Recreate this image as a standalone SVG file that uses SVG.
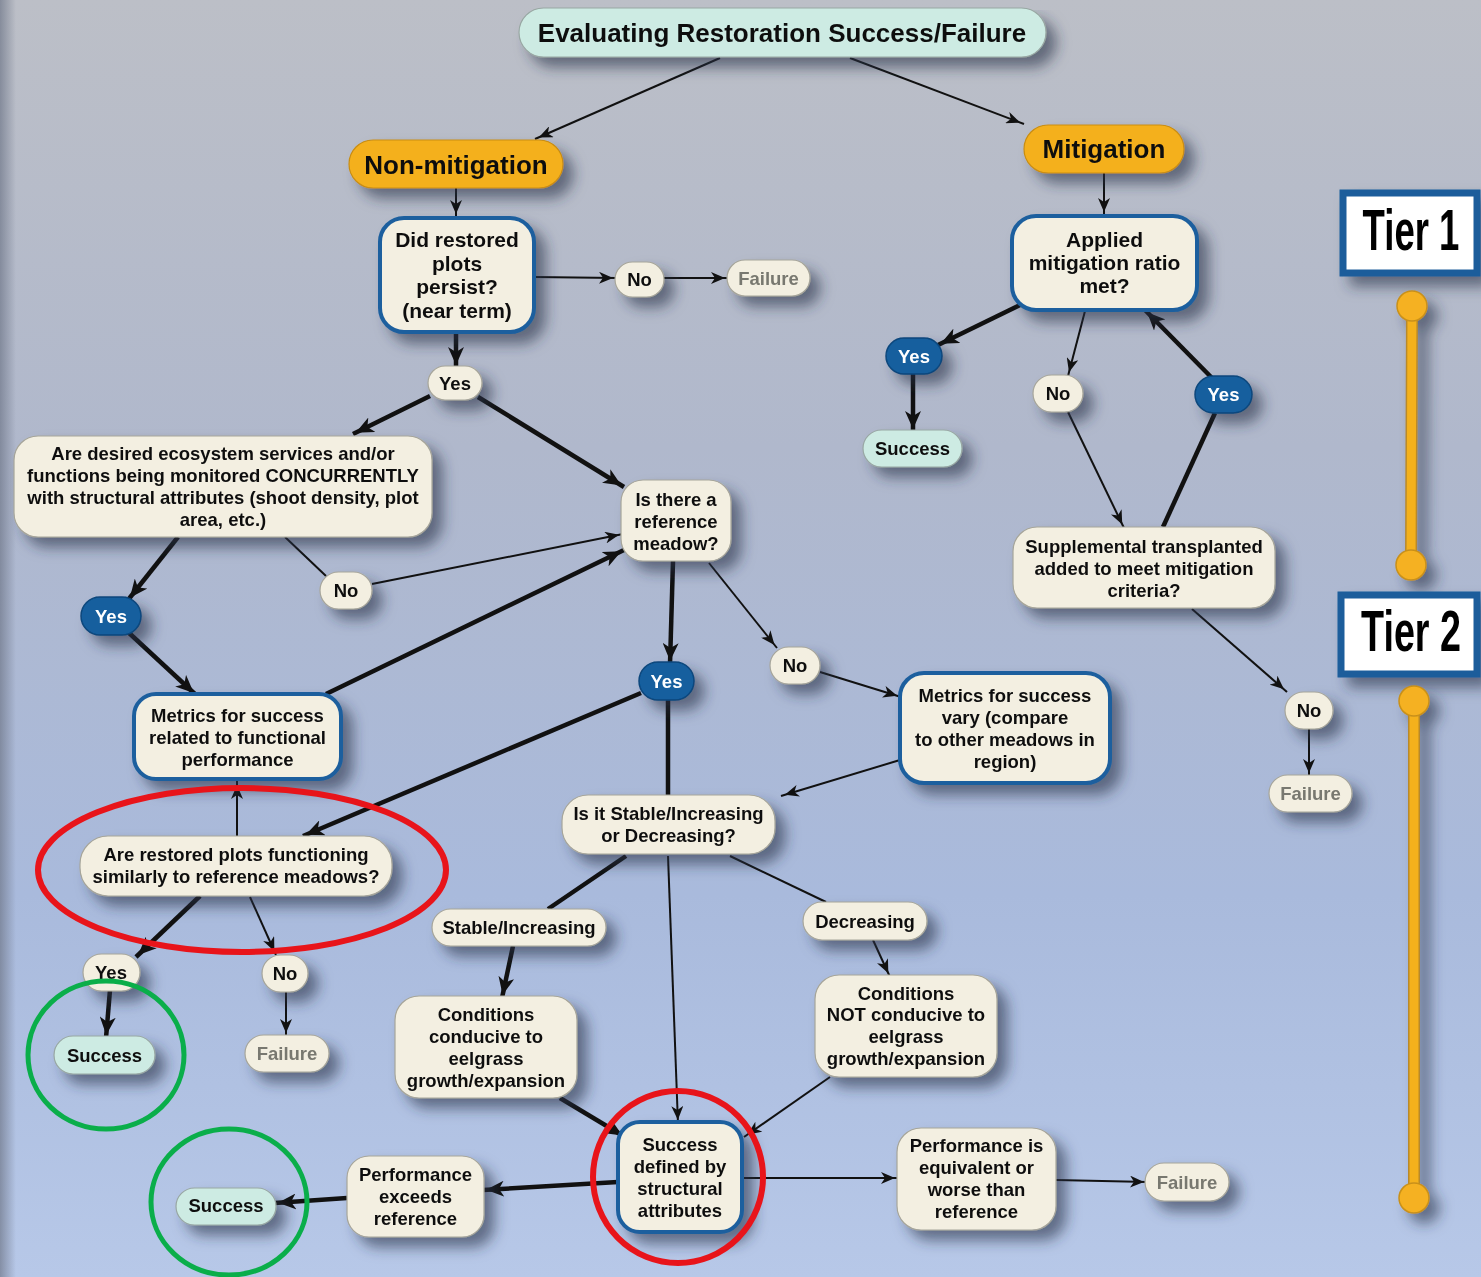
<svg xmlns="http://www.w3.org/2000/svg" width="1481" height="1277" viewBox="0 0 1481 1277">
<defs>
<linearGradient id="bg" x1="0" y1="0" x2="0" y2="1">
<stop offset="0" stop-color="#bcbfc7"/>
<stop offset="0.35" stop-color="#b0b8cc"/>
<stop offset="0.7" stop-color="#a9badc"/>
<stop offset="1" stop-color="#b7c8e8"/>
</linearGradient>
<linearGradient id="edge" x1="0" y1="0" x2="1" y2="0">
<stop offset="0" stop-color="#6f7789" stop-opacity="0.7"/>
<stop offset="1" stop-color="#6f7789" stop-opacity="0"/>
</linearGradient>
<filter id="sh" filterUnits="userSpaceOnUse" x="0" y="0" width="1481" height="1277">
<feGaussianBlur in="SourceAlpha" stdDeviation="7"/>
<feOffset dx="10" dy="10" result="b"/>
<feFlood flood-color="#283248" flood-opacity="0.6"/>
<feComposite in2="b" operator="in"/>
<feMerge><feMergeNode/><feMergeNode in="SourceGraphic"/></feMerge>
</filter>
<marker id="a1" markerUnits="userSpaceOnUse" markerWidth="24" markerHeight="12" viewBox="0 0 24 12" refX="18" refY="6" orient="auto">
<path d="M0,0 L14,6 L0,12 L4,6 z" fill="#111"/>
</marker>
<marker id="a2" markerUnits="userSpaceOnUse" markerWidth="26" markerHeight="16" viewBox="0 0 26 16" refX="21" refY="8" orient="auto">
<path d="M0,0 L18,8 L0,16 L5,8 z" fill="#111"/>
</marker>
<style>
.n{fill:#f3efe1;stroke:#a6a59a;stroke-width:1.2}
.nb{fill:#f3efe1;stroke:#1d5f9e;stroke-width:4}
.m{fill:#cdebe3;stroke:#98a7a3;stroke-width:1.2}
.o{fill:#f4b01e;stroke:#c98d12;stroke-width:1.2}
.b{fill:#135e9e;stroke:#0c477c;stroke-width:1.5}
text{font-family:"Liberation Sans",Arial,sans-serif;font-weight:bold;font-size:18.5px;fill:#111;text-anchor:middle}
.big{font-size:26px}
.q{font-size:21px}
.w{fill:#fff}
.g{fill:#78786f}
.c1{stroke:#111;stroke-width:2;fill:none}
.c2{stroke:#111;stroke-width:4.5;fill:none}
.tier{font-size:58px;fill:#000}
.tb{fill:#fff;stroke:#1c5d9b;stroke-width:7}
.tl1{stroke:#b8892a;stroke-width:12;stroke-linecap:round}
.tl2{stroke:#f4b11c;stroke-width:9;stroke-linecap:round}
.tc{fill:#f5b120;stroke:#c8901a;stroke-width:1.5}
.red{fill:none;stroke:#e8141a;stroke-width:6}
.grn{fill:none;stroke:#0aae4a;stroke-width:5}
</style>
</defs>
<rect width="1481" height="1277" fill="url(#bg)"/>
<rect width="16" height="1277" fill="url(#edge)"/>

<g id="connectors">
<line class="c1" x1="720" y1="58" x2="535" y2="139" marker-end="url(#a1)"/>
<line class="c1" x1="850" y1="58" x2="1024" y2="124" marker-end="url(#a1)"/>
<line class="c1" x1="456" y1="188" x2="456" y2="218" marker-end="url(#a1)"/>
<line class="c1" x1="1104" y1="173" x2="1104" y2="216" marker-end="url(#a1)"/>
<line class="c1" x1="534" y1="277" x2="617" y2="278" marker-end="url(#a1)"/>
<line class="c1" x1="664" y1="278" x2="729" y2="278" marker-end="url(#a1)"/>
<line class="c2" x1="456" y1="332" x2="456" y2="368" marker-end="url(#a2)"/>
<line class="c2" x1="430" y1="396" x2="353" y2="434" marker-end="url(#a2)"/>
<line class="c2" x1="478" y1="397" x2="624" y2="487" marker-end="url(#a2)"/>
<line class="c2" x1="178" y1="537" x2="128" y2="600" marker-end="url(#a2)"/>
<line class="c1" x1="285" y1="537" x2="326" y2="576"/>
<line class="c1" x1="372" y1="584" x2="623" y2="534" marker-end="url(#a1)"/>
<line class="c2" x1="128" y1="632" x2="196" y2="695" marker-end="url(#a2)"/>
<line class="c2" x1="326" y1="694" x2="624" y2="550" marker-end="url(#a2)"/>
<line class="c2" x1="673" y1="561" x2="670" y2="664" marker-end="url(#a2)"/>
<line class="c1" x1="709" y1="563" x2="777" y2="648" marker-end="url(#a1)"/>
<line class="c1" x1="820" y1="672" x2="901" y2="697" marker-end="url(#a1)"/>
<line class="c1" x1="900" y1="760" x2="781" y2="796" marker-end="url(#a1)"/>
<line class="c2" x1="641" y1="693" x2="303" y2="836" marker-end="url(#a2)"/>
<line class="c2" x1="668" y1="700" x2="668" y2="795"/>
<line class="c1" x1="237" y1="836" x2="237" y2="781" marker-end="url(#a1)"/>
<line class="c2" x1="200" y1="896" x2="136" y2="957" marker-end="url(#a2)"/>
<line class="c1" x1="250" y1="897" x2="276" y2="955" marker-end="url(#a1)"/>
<line class="c2" x1="110" y1="990" x2="106" y2="1038" marker-end="url(#a2)"/>
<line class="c1" x1="286" y1="992" x2="286" y2="1037" marker-end="url(#a1)"/>
<line class="c2" x1="626" y1="856" x2="548" y2="909"/>
<line class="c1" x1="730" y1="856" x2="826" y2="902"/>
<line class="c1" x1="668" y1="856" x2="678" y2="1124" marker-end="url(#a1)"/>
<line class="c2" x1="513" y1="946" x2="502" y2="998" marker-end="url(#a2)"/>
<line class="c1" x1="873" y1="940" x2="890" y2="977" marker-end="url(#a1)"/>
<line class="c2" x1="560" y1="1098" x2="625" y2="1137" marker-end="url(#a2)"/>
<line class="c1" x1="830" y1="1077" x2="744" y2="1137" marker-end="url(#a1)"/>
<line class="c2" x1="618" y1="1182" x2="483" y2="1190" marker-end="url(#a2)"/>
<line class="c2" x1="347" y1="1198" x2="275" y2="1203" marker-end="url(#a2)"/>
<line class="c1" x1="742" y1="1178" x2="899" y2="1178" marker-end="url(#a1)"/>
<line class="c1" x1="1056" y1="1180" x2="1148" y2="1182" marker-end="url(#a1)"/>
<line class="c2" x1="1022" y1="304" x2="938" y2="345" marker-end="url(#a2)"/>
<line class="c2" x1="913" y1="374" x2="913" y2="432" marker-end="url(#a2)"/>
<line class="c1" x1="1085" y1="311" x2="1068" y2="376" marker-end="url(#a1)"/>
<line class="c2" x1="1212" y1="378" x2="1145" y2="310" marker-end="url(#a2)"/>
<line class="c1" x1="1068" y1="412" x2="1124" y2="528" marker-end="url(#a1)"/>
<line class="c2" x1="1163" y1="527" x2="1215" y2="413"/>
<line class="c1" x1="1192" y1="609" x2="1287" y2="692" marker-end="url(#a1)"/>
<line class="c1" x1="1309" y1="729" x2="1309" y2="777" marker-end="url(#a1)"/>
</g>

<g id="title" filter="url(#sh)"><rect class="m" x="519" y="8" width="527" height="49" rx="24.5"/><text class="big" x="782" y="42">Evaluating Restoration Success/Failure</text></g>
<g id="nonmitigation" filter="url(#sh)"><rect class="o" x="349" y="140" width="214" height="48" rx="24"/><text class="big" x="456" y="174">Non-mitigation</text></g>
<g id="mitigation" filter="url(#sh)"><rect class="o" x="1024" y="125" width="160" height="48" rx="24"/><text class="big" x="1104" y="158">Mitigation</text></g>
<g id="persist" filter="url(#sh)"><rect class="nb" x="380" y="218" width="154" height="114" rx="24"/><text class="q" x="457" y="247">Did restored</text><text class="q" x="457" y="271">plots</text><text class="q" x="457" y="294">persist?</text><text class="q" x="457" y="318">(near term)</text></g>
<g id="no1" filter="url(#sh)"><rect class="n" x="615" y="262" width="49" height="35" rx="17.5"/><text x="639.5" y="286">No</text></g>
<g id="fail1" filter="url(#sh)"><rect class="n" x="727" y="260" width="83" height="36" rx="18"/><text class="g" x="768.5" y="285">Failure</text></g>
<g id="yes1" filter="url(#sh)"><rect class="n" x="428" y="366" width="54" height="34" rx="17"/><text x="455" y="390">Yes</text></g>
<g id="desired" filter="url(#sh)"><rect class="n" x="14" y="436" width="418" height="101" rx="24"/><text x="223" y="460">Are desired ecosystem services and/or</text><text x="223" y="482">functions being monitored CONCURRENTLY</text><text x="223" y="504">with structural attributes (shoot density, plot</text><text x="223" y="526">area, etc.)</text></g>
<g id="reference" filter="url(#sh)"><rect class="n" x="621" y="480" width="110" height="81" rx="22"/><text x="676" y="506">Is there a</text><text x="676" y="528">reference</text><text x="676" y="550">meadow?</text></g>
<g id="yesb1" filter="url(#sh)"><rect class="b" x="81" y="597" width="60" height="38" rx="19"/><text class="w" x="111" y="623">Yes</text></g>
<g id="no2" filter="url(#sh)"><rect class="n" x="320" y="572" width="52" height="37" rx="18.5"/><text x="346" y="597">No</text></g>
<g id="metfunc" filter="url(#sh)"><rect class="nb" x="134" y="694" width="207" height="85" rx="22"/><text x="237.5" y="722">Metrics for success</text><text x="237.5" y="744">related to functional</text><text x="237.5" y="766">performance</text></g>
<g id="yesb2" filter="url(#sh)"><rect class="b" x="639" y="662" width="55" height="38" rx="19"/><text class="w" x="666.5" y="688">Yes</text></g>
<g id="no3" filter="url(#sh)"><rect class="n" x="770" y="647" width="50" height="37" rx="18.5"/><text x="795" y="672">No</text></g>
<g id="metvary" filter="url(#sh)"><rect class="nb" x="900" y="673" width="210" height="110" rx="24"/><text x="1005" y="702">Metrics for success</text><text x="1005" y="724">vary (compare</text><text x="1005" y="746">to other meadows in</text><text x="1005" y="768">region)</text></g>
<g id="stable" filter="url(#sh)"><rect class="n" x="562" y="795" width="213" height="59" rx="26"/><text x="668.5" y="820">Is it Stable/Increasing</text><text x="668.5" y="842">or Decreasing?</text></g>
<g id="restored" filter="url(#sh)"><rect class="n" x="80" y="836" width="312" height="60" rx="28"/><text x="236" y="861">Are restored plots functioning</text><text x="236" y="883">similarly to reference meadows?</text></g>
<g id="stabinc" filter="url(#sh)"><rect class="n" x="432" y="909" width="174" height="37" rx="18.5"/><text x="519" y="934">Stable/Increasing</text></g>
<g id="decreasing" filter="url(#sh)"><rect class="n" x="803" y="902" width="124" height="38" rx="19"/><text x="865" y="928">Decreasing</text></g>
<g id="yes3" filter="url(#sh)"><rect class="n" x="83" y="954" width="57" height="37" rx="18.5"/><text x="111" y="979">Yes</text></g>
<g id="no4" filter="url(#sh)"><rect class="n" x="262" y="955" width="46" height="37" rx="18.5"/><text x="285" y="980">No</text></g>
<g id="success1" filter="url(#sh)"><rect class="m" x="54" y="1036" width="101" height="38" rx="19"/><text x="104.5" y="1062">Success</text></g>
<g id="fail2" filter="url(#sh)"><rect class="n" x="245" y="1035" width="84" height="37" rx="18.5"/><text class="g" x="287" y="1060">Failure</text></g>
<g id="conducive" filter="url(#sh)"><rect class="n" x="395" y="996" width="182" height="102" rx="24"/><text x="486" y="1021">Conditions</text><text x="486" y="1043">conducive to</text><text x="486" y="1065">eelgrass</text><text x="486" y="1087">growth/expansion</text></g>
<g id="notconducive" filter="url(#sh)"><rect class="n" x="815" y="975" width="182" height="102" rx="24"/><text x="906" y="1000">Conditions</text><text x="906" y="1021">NOT conducive to</text><text x="906" y="1043">eelgrass</text><text x="906" y="1065">growth/expansion</text></g>
<g id="structural" filter="url(#sh)"><rect class="nb" x="618" y="1122" width="124" height="110" rx="22"/><text x="680" y="1151">Success</text><text x="680" y="1173">defined by</text><text x="680" y="1195">structural</text><text x="680" y="1217">attributes</text></g>
<g id="exceeds" filter="url(#sh)"><rect class="n" x="347" y="1156" width="137" height="81" rx="22"/><text x="415.5" y="1181">Performance</text><text x="415.5" y="1203">exceeds</text><text x="415.5" y="1225">reference</text></g>
<g id="success2" filter="url(#sh)"><rect class="m" x="176" y="1188" width="100" height="37" rx="18.5"/><text x="226" y="1212">Success</text></g>
<g id="equivalent" filter="url(#sh)"><rect class="n" x="897" y="1128" width="159" height="102" rx="24"/><text x="976.5" y="1152">Performance is</text><text x="976.5" y="1174">equivalent or</text><text x="976.5" y="1196">worse than</text><text x="976.5" y="1218">reference</text></g>
<g id="fail3" filter="url(#sh)"><rect class="n" x="1145" y="1163" width="84" height="38" rx="19"/><text class="g" x="1187" y="1189">Failure</text></g>
<g id="applied" filter="url(#sh)"><rect class="nb" x="1012" y="216" width="185" height="94" rx="24"/><text class="q" x="1104.5" y="247">Applied</text><text class="q" x="1104.5" y="270">mitigation ratio</text><text class="q" x="1104.5" y="293">met?</text></g>
<g id="yesb3" filter="url(#sh)"><rect class="b" x="886" y="338" width="56" height="36" rx="18"/><text class="w" x="914" y="363">Yes</text></g>
<g id="success3" filter="url(#sh)"><rect class="m" x="863" y="430" width="99" height="37" rx="18.5"/><text x="912.5" y="455">Success</text></g>
<g id="no5" filter="url(#sh)"><rect class="n" x="1033" y="375" width="50" height="37" rx="18.5"/><text x="1058" y="400">No</text></g>
<g id="yesb4" filter="url(#sh)"><rect class="b" x="1195" y="376" width="57" height="37" rx="18.5"/><text class="w" x="1223.5" y="401">Yes</text></g>
<g id="supplemental" filter="url(#sh)"><rect class="n" x="1013" y="527" width="262" height="81" rx="24"/><text x="1144" y="553">Supplemental transplanted</text><text x="1144" y="575">added to meet mitigation</text><text x="1144" y="597">criteria?</text></g>
<g id="no6" filter="url(#sh)"><rect class="n" x="1285" y="692" width="48" height="37" rx="18.5"/><text x="1309" y="717">No</text></g>
<g id="fail4" filter="url(#sh)"><rect class="n" x="1269" y="775" width="83" height="37" rx="18.5"/><text class="g" x="1310.5" y="800">Failure</text></g>

<g id="tier1" filter="url(#sh)"><rect class="tb" x="1343" y="193" width="134" height="80"/><text class="tier" transform="translate(1411,250) scale(0.63,1)" x="0" y="0">Tier 1</text></g>
<g id="tier1-bar" filter="url(#sh)"><line class="tl1" x1="1412" y1="306" x2="1411" y2="565"/><line class="tl2" x1="1412" y1="306" x2="1411" y2="565"/><circle class="tc" cx="1412" cy="306" r="15"/><circle class="tc" cx="1411" cy="565" r="15"/></g>
<g id="tier2" filter="url(#sh)"><rect class="tb" x="1341" y="595" width="136" height="79"/><text class="tier" transform="translate(1411,651) scale(0.65,1)" x="0" y="0">Tier 2</text></g>
<g id="tier2-bar" filter="url(#sh)"><line class="tl1" x1="1414" y1="701" x2="1414" y2="1198"/><line class="tl2" x1="1414" y1="701" x2="1414" y2="1198"/><circle class="tc" cx="1414" cy="701" r="15"/><circle class="tc" cx="1414" cy="1198" r="15"/></g>

<g id="highlights">
<ellipse class="red" cx="242" cy="870" rx="204" ry="82"/>
<ellipse class="red" cx="678" cy="1177" rx="85" ry="86"/>
<ellipse class="grn" cx="106" cy="1055" rx="78" ry="74"/>
<ellipse class="grn" cx="229" cy="1202" rx="78" ry="73"/>
</g>
</svg>
